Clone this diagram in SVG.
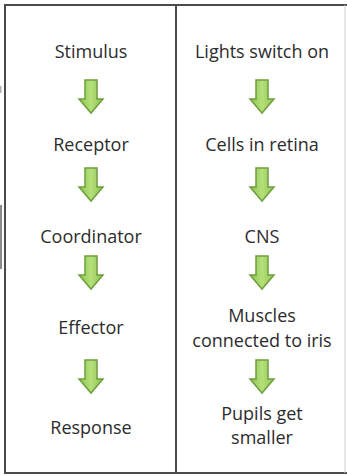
<svg xmlns="http://www.w3.org/2000/svg" width="347" height="476" viewBox="0 0 347 476">
<style>
.t{font-family:"Open Sans","Liberation Sans",sans-serif;font-size:18px;fill:#2c2c2c;text-anchor:middle}
.b{stroke:#4a4a4a;stroke-width:2;fill:none}
.arr{fill:url(#g);stroke:#6f9e3c;stroke-width:1.5;stroke-linejoin:miter}
</style>
<defs>
<linearGradient id="g" x1="0" y1="0" x2="1" y2="0">
<stop offset="0" stop-color="#8cc552"/>
<stop offset="0.5" stop-color="#b5e07a"/>
<stop offset="1" stop-color="#8cc552"/>
</linearGradient>
<path id="a" d="M-6,0 H6 V19 H12 L0,33 L-12,19 H-6 Z"/>
</defs>
<rect width="347" height="476" fill="#ffffff"/>
<g id="table">
<line class="b" x1="4" y1="5" x2="347" y2="5"/>
<line class="b" x1="5" y1="4" x2="5" y2="474"/>
<line class="b" x1="176" y1="4" x2="176" y2="474"/>
<line class="b" x1="4" y1="473" x2="347" y2="473"/>
<line x1="345" y1="5" x2="345" y2="473" stroke="#cfcfcf" stroke-width="1"/>
<rect x="0" y="205" width="2" height="64" fill="#8a8a8a"/>
<rect x="0" y="86" width="1.5" height="7" fill="#b0b0b0"/>
</g>
<g id="stimulus"><text class="t" x="91" y="58">Stimulus</text></g>
<g id="receptor"><text class="t" x="91" y="151">Receptor</text></g>
<g id="coordinator"><text class="t" x="91" y="243">Coordinator</text></g>
<g id="effector"><text class="t" x="91" y="334">Effector</text></g>
<g id="response"><text class="t" x="91" y="434">Response</text></g>
<g id="lights"><text class="t" x="262" y="58">Lights switch on</text></g>
<g id="cells"><text class="t" x="262" y="151">Cells in retina</text></g>
<g id="cns"><text class="t" x="262" y="243">CNS</text></g>
<g id="muscles"><text class="t" x="262" y="322">Muscles</text><text class="t" x="262" y="347">connected to iris</text></g>
<g id="pupils"><text class="t" x="262" y="420">Pupils get</text><text class="t" x="262" y="444">smaller</text></g>
<g id="connectors">
<use href="#a" class="arr" x="91" y="80"/>
<use href="#a" class="arr" x="91" y="168"/>
<use href="#a" class="arr" x="91" y="256"/>
<use href="#a" class="arr" x="91" y="360"/>
<use href="#a" class="arr" x="262" y="80"/>
<use href="#a" class="arr" x="262" y="168"/>
<use href="#a" class="arr" x="262" y="256"/>
<use href="#a" class="arr" x="262" y="360"/>
</g>
</svg>
